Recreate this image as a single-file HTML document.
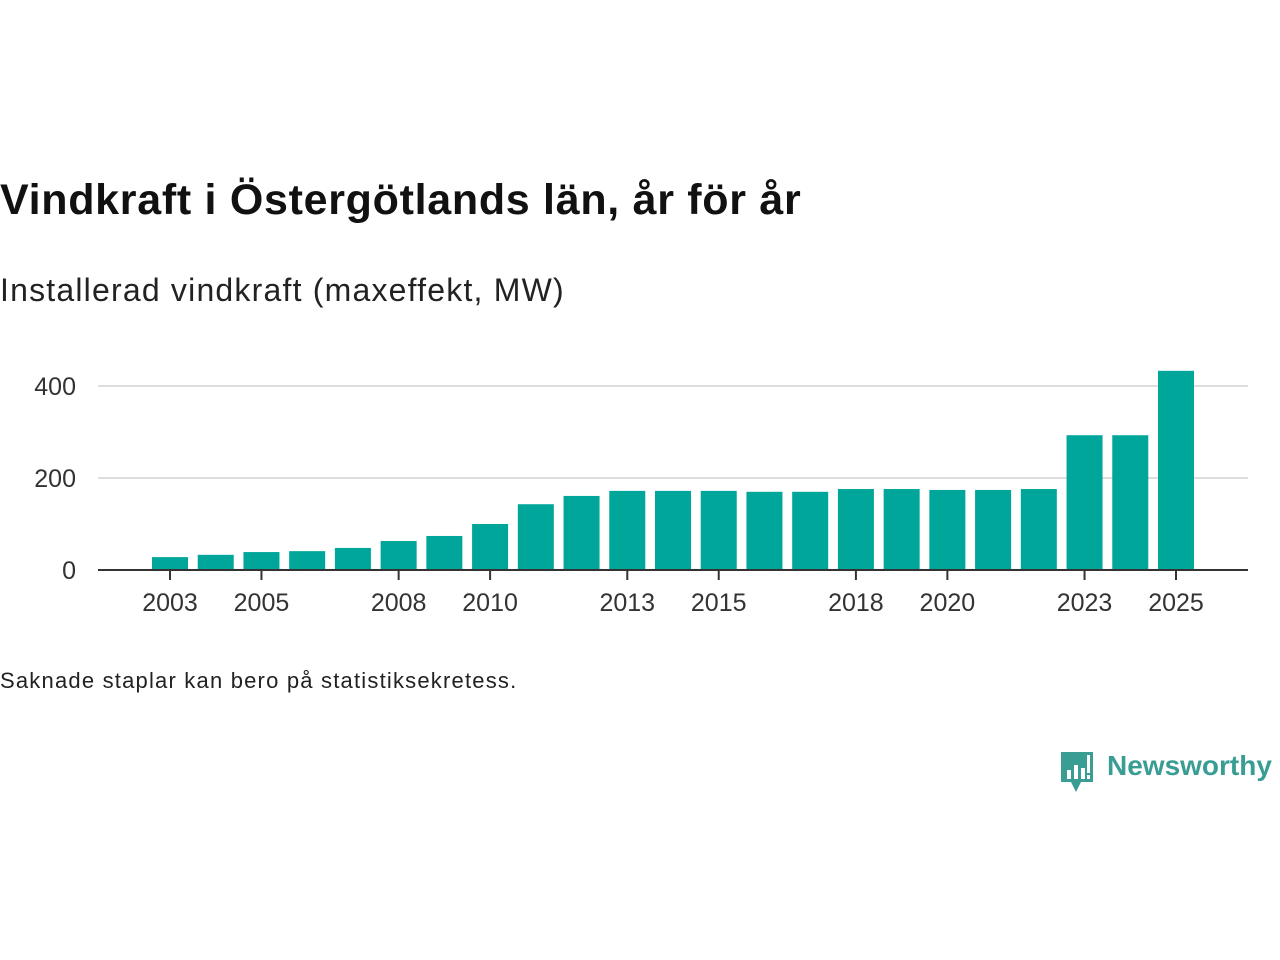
<!DOCTYPE html>
<html><head><meta charset="utf-8"><style>
body{margin:0;width:1280px;height:960px;background:#fff;font-family:"Liberation Sans",sans-serif;position:relative;overflow:hidden}
.t{position:absolute;left:0;white-space:nowrap}
</style></head><body>
<div class="t" style="top:176px;font-size:43px;letter-spacing:0.7px;font-weight:bold;color:#111">Vindkraft i Östergötlands län, år för år</div>
<div class="t" style="top:272px;font-size:32px;letter-spacing:1.2px;color:#222">Installerad vindkraft (maxeffekt, MW)</div>
<svg id="c" width="1280" height="640" style="position:absolute;left:0;top:0"></svg>
<div class="t" style="top:668px;font-size:22px;letter-spacing:1.2px;color:#222">Saknade staplar kan bero på statistiksekretess.</div>
<div style="position:absolute;left:1059px;top:750px">
<svg width="36" height="44" style="position:absolute;left:0;top:0"><path d="M2 2h32v30h-12l-5 10l-5-10h-10z" fill="#3a9d94"/><rect x="8" y="20" width="4" height="9" fill="#fff"/><rect x="15" y="15" width="4" height="14" fill="#fff"/><rect x="22" y="18" width="4" height="11" fill="#fff"/><rect x="28" y="5" width="3" height="18" fill="#fff"/><rect x="28" y="25" width="3" height="4" fill="#fff"/></svg>
<div style="position:absolute;left:48px;top:0px;font-size:28px;font-weight:bold;color:#3a9d94;white-space:nowrap">Newsworthy</div>
</div>
<script>
const years=[2003,2004,2005,2006,2007,2008,2009,2010,2011,2012,2013,2014,2015,2016,2017,2018,2019,2020,2021,2022,2023,2024,2025];
const values=[28,33,39,41,48,63,74,100,143,161,172,172,172,170,170,176,176,174,174,176,293,293,433];
const yTicks=[0,200,400];
const xLabels=[2003,2005,2008,2010,2013,2015,2018,2020,2023,2025];
const svg=document.getElementById('c');const NS='http://www.w3.org/2000/svg';
const x=yr=>170+(yr-2003)*(1176-170)/22;
const y=v=>570-v*0.46;
function mk(t,a){const e=document.createElementNS(NS,t);for(const k in a)e.setAttribute(k,a[k]);svg.appendChild(e);return e;}
yTicks.forEach(v=>{
 if(v>0){const g=mk('line',{x1:98,x2:1248,y1:y(v),y2:y(v),stroke:'#ddd','stroke-width':2});
 
 }
 const t=mk('text',{x:76,y:y(v)+9,'text-anchor':'end','font-size':25,fill:'#333','font-family':'Liberation Sans, sans-serif'});t.textContent=v;
 
 
});
years.forEach((yr,i)=>{
 const r=mk('rect',{x:x(yr)-18,width:36,y:y(values[i]),height:570-y(values[i]),fill:'#00a699'});
 
 
});
const b=mk('line',{x1:98,x2:1248,y1:570,y2:570,stroke:'#333','stroke-width':2});


xLabels.forEach(yr=>{
 const tk=mk('line',{x1:x(yr),x2:x(yr),y1:570,y2:580,stroke:'#333','stroke-width':2});
 
 
 const t=mk('text',{x:x(yr),y:611,'text-anchor':'middle','font-size':25,fill:'#333','font-family':'Liberation Sans, sans-serif'});t.textContent=yr;
 
 
});
</script>
</body></html>
